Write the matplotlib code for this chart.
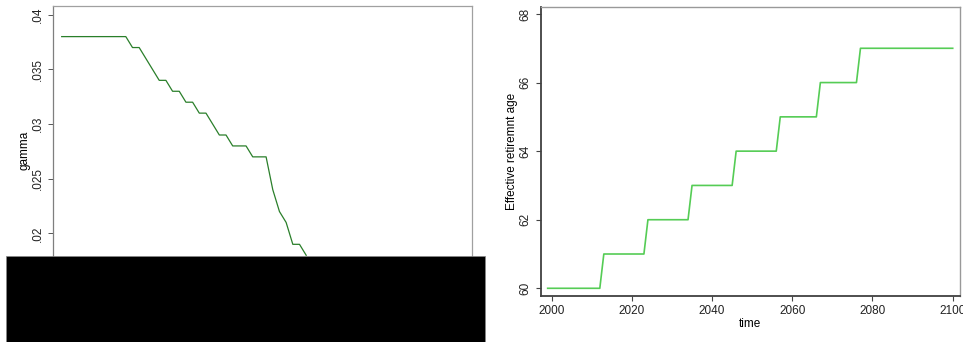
import matplotlib
matplotlib.use("Agg")
import matplotlib.pyplot as plt
from matplotlib.patches import Rectangle

plt.rcParams['font.family'] = ['Liberation Sans', 'DejaVu Sans']

# left panel: gamma (x axis is hidden under the black box in the original)
gamma_t = [-0.6, 9, 10, 11, 14, 15, 16, 17, 18, 19, 20, 21, 23, 24,
           25, 27, 28, 30, 31, 32, 33, 34, 35, 36]
gamma = [0.038, 0.038, 0.037, 0.037, 0.034, 0.034, 0.033, 0.033, 0.032,
         0.032, 0.031, 0.031, 0.029, 0.029, 0.028, 0.028, 0.027, 0.027,
         0.024, 0.022, 0.021, 0.019, 0.019, 0.018]
gamma_ticks = [0.02, 0.025, 0.03, 0.035, 0.04]
gamma_labels = ['.02', '.025', '.03', '.035', '.04']

# right panel: effective retirement age by year
years = [1999, 2012, 2013, 2023, 2024, 2034, 2035, 2045, 2046,
         2056, 2057, 2066, 2067, 2076, 2077, 2100]
ret_age = [60, 60, 61, 61, 62, 62, 63, 63, 64, 64, 65, 65, 66, 66, 67, 67]
year_ticks = [2000, 2020, 2040, 2060, 2080, 2100]
age_ticks = [60, 62, 64, 66, 68]

W, H = 963, 342
fig = plt.figure(figsize=(W / 100, H / 100), dpi=100)


def px_axes(x0, y0, x1, y1):
    return fig.add_axes([x0 / W, 1 - y1 / H, (x1 - x0) / W, (y1 - y0) / H])


# ---- left panel
ax1 = px_axes(53.3, 6, 472.3, 295.7)
ax1.plot(gamma_t, gamma, color='#2a7f2a', linewidth=0.9)
ax1.set_xlim(-1.856, 60.87)
ax1.set_ylim(0.0143, 0.0408)
ax1.set_yticks(gamma_ticks)
ax1.set_yticklabels(gamma_labels, rotation=90, va='center')
ax1.set_xticks([])
ax1.set_ylabel('gamma', fontsize=8.5, labelpad=0.5)
ax1.tick_params(axis='y', length=3.5, width=0.7, color='#555555',
                labelsize=8.5, labelcolor='#222222', pad=3.5)
ax1.spines['left'].set_color('#7f7f7f')
for s in ('top', 'right', 'bottom'):
    ax1.spines[s].set_color('#a0a0a0')
for s in ax1.spines.values():
    s.set_linewidth(0.9)

# ---- right panel
ax2 = px_axes(540.7, 7, 960, 295.7)
ax2.plot(years, ret_age, color='#55cc55', linewidth=1.2)
ax2.set_xlim(1997.26, 2101.82)
ax2.set_ylim(59.784, 68.204)
ax2.set_xticks(year_ticks)
ax2.set_yticks(age_ticks)
ax2.set_yticklabels([str(v) for v in age_ticks], rotation=90, va='center')
ax2.set_xlabel('time', fontsize=8.5, labelpad=0.5)
ax2.set_ylabel('Effective retiremnt age', fontsize=8.5, labelpad=1)
ax2.tick_params(length=3.5, width=0.8, color='#444444', labelsize=8.5,
                labelcolor='#222222', pad=3.5)
for s in ('left', 'bottom'):
    ax2.spines[s].set_color('#404040')
    ax2.spines[s].set_linewidth(1.3)
for s in ('top', 'right'):
    ax2.spines[s].set_color('#999999')
    ax2.spines[s].set_linewidth(1.0)

# black box covering the lower part of the left panel
fig.patches.append(Rectangle((6 / W, 0), (485 - 6) / W, 1 - 255.7 / H,
                             transform=fig.transFigure, facecolor='black',
                             edgecolor='#888888', linewidth=0.5, zorder=10))

fig.savefig('out.png', dpi=100)
